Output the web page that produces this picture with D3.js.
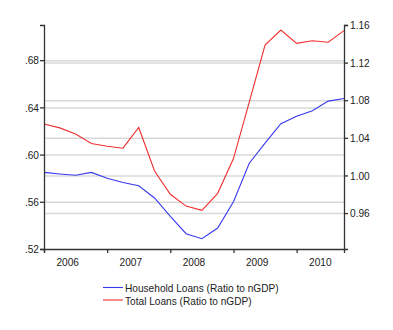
<!DOCTYPE html>
<html><head><meta charset="utf-8">
<script src="https://cdn.jsdelivr.net/npm/d3@7"></script>
<style>body{margin:0;background:#fff;} svg{display:block;font-family:"Liberation Sans",Arial,sans-serif;}</style>
</head><body>
<svg id="c" width="393" height="330"></svg>
<script>
const quarters = ["2006Q1","2006Q2","2006Q3","2006Q4","2007Q1","2007Q2","2007Q3","2007Q4","2008Q1","2008Q2","2008Q3","2008Q4","2009Q1","2009Q2","2009Q3","2009Q4","2010Q1","2010Q2","2010Q3","2010Q4"];
const household = [0.5849,0.5836,0.5825,0.5849,0.5800,0.5764,0.5736,0.5632,0.5476,0.5330,0.5287,0.5378,0.5601,0.5927,0.6097,0.6262,0.6324,0.6372,0.6453,0.6475];
const total = [1.0547,1.0506,1.0440,1.0340,1.0310,1.0290,1.0510,1.0047,0.9800,0.9674,0.9629,0.9810,1.0180,1.0780,1.1387,1.1547,1.1405,1.1433,1.1416,1.1540];
const years = ["2006","2007","2008","2009","2010"];
const leftTicks = [0.52,0.56,0.60,0.64,0.68];
const rightTicks = [0.96,1.00,1.04,1.08,1.12,1.16];
const seriesNames = ["Household Loans (Ratio to nGDP)","Total Loans (Ratio to nGDP)"];

const svg = d3.select("#c");
const L = 44, R = 344, T = 25, B = 249;
const x = d3.scaleLinear().domain([0, quarters.length-1]).range([L, R]);
const yL = d3.scaleLinear().domain([0.52, 0.7098]).range([B, T]);
const yR = d3.scaleLinear().domain([0.9218, 1.16]).range([B, T]);
const FS = "11.5px", SQ = 0.88;
function squeeze(sel){
  sel.each(function(){
    const w = this.getComputedTextLength();
    d3.select(this).attr("textLength", w*SQ).attr("lengthAdjust","spacingAndGlyphs");
  });
}

// gridlines
const g = svg.append("g");
g.selectAll(".gl").data(leftTicks.filter(d=>d>0.52)).enter().append("line")
 .attr("x1",L).attr("x2",R).attr("y1",d=>yL(d)+0.5).attr("y2",d=>yL(d)+0.5)
 .attr("stroke","#d8d8d8").attr("stroke-width",1.5);
g.selectAll(".gr").data(rightTicks.filter(d=>d<1.16)).enter().append("line")
 .attr("x1",L).attr("x2",R).attr("y1",d=>yR(d)+0.5).attr("y2",d=>yR(d)+0.5)
 .attr("stroke","#d8d8d8").attr("stroke-width",1.5);

// lines
const lineL = d3.line().x((d,i)=>x(i)).y(d=>yL(d));
const lineR = d3.line().x((d,i)=>x(i)).y(d=>yR(d));
svg.append("path").attr("d",lineR(total)).attr("fill","none").attr("stroke","#f03030").attr("stroke-width",1.1);
svg.append("path").attr("d",lineL(household)).attr("fill","none").attr("stroke","#3838f0").attr("stroke-width",1.1);

// axes
const axCol = "#333";
const la = svg.append("g").attr("transform",`translate(${L},0)`)
 .call(d3.axisLeft(yL).tickValues(leftTicks).tickFormat(d=>d3.format(".2f")(d).replace(/^0/,"")).tickSizeOuter(0).tickSize(4));
const ra = svg.append("g").attr("transform",`translate(${R},0)`)
 .call(d3.axisRight(yR).tickValues(rightTicks).tickFormat(d3.format(".2f")).tickSizeOuter(0).tickSize(4));
const ba = svg.append("g").attr("transform",`translate(0,${B})`)
 .call(d3.axisBottom(x).tickValues(years.map((y,i)=>i*4)).tickFormat("").tickSizeOuter(0).tickSize(4));
[la,ra,ba].forEach(a=>{
  a.select(".domain").attr("stroke",axCol).attr("stroke-width",1.3);
  a.selectAll(".tick line").attr("stroke",axCol).attr("stroke-width",1.3);
  a.selectAll("text").attr("fill","#222").style("font-size",FS).style("font-family","'Liberation Sans',Arial,sans-serif");
});
la.selectAll("text").attr("x",-5);
ra.selectAll("text").attr("x",6);
squeeze(la.selectAll("text")); squeeze(ra.selectAll("text"));
// year labels centered
const yl = svg.append("g").selectAll("text").data(years).enter().append("text")
 .attr("x",(d,i)=>x(i*4+1.5)).attr("y",B+17).attr("text-anchor","middle")
 .attr("fill","#222").style("font-size",FS).text(d=>d);
squeeze(yl);

// legend
const colors = ["#3838f0","#f03030"];
const lg = svg.append("g");
seriesNames.forEach((n,i)=>{
  const yy = 287.5 + i*12.5;
  lg.append("line").attr("x1",103).attr("x2",123).attr("y1",yy).attr("y2",yy).attr("stroke",colors[i]).attr("stroke-width",1.1);
  const t = lg.append("text").attr("x",125).attr("y",yy+4.5).attr("fill","#222").style("font-size",FS).text(n);
  squeeze(t);
});
</script>
</body></html>
